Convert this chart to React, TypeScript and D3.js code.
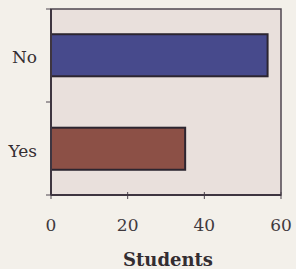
import React from "react";
import * as d3 from "d3";

const categories = ["No", "Yes"];
const students = [56.5, 35];
const xTicks = [0, 20, 40, 60];
const barColors = ["#474a8c", "#8c5046"];

export default function App() {
  const W = 296, H = 269;
  const left = 51, right = 281, top = 9, bottom = 195;
  const x = d3.scaleLinear().domain([0, 60]).range([left, right]);
  const y = d3.scaleBand().domain(categories).range([top, bottom]).paddingInner(0.55).paddingOuter(0.27);
  const yOuter = d3.scaleBand().domain(categories).range([top, bottom]);
  const font = "'DejaVu Serif', 'Liberation Serif', serif";
  return (
    <svg width={W} height={H} style={{ position: "absolute", left: 0, top: 0, background: "#f3f0ea" }}>
      <rect x={0} y={0} width={W} height={H} fill="#f3f0ea" />
      <rect x={left} y={top} width={right - left} height={bottom - top} fill="#e9e0dc" stroke="#4f4650" strokeWidth={1.5} />
      {categories.map((c, i) => (
        <rect key={c} x={x(0)} y={y(c)!} width={x(students[i]) - x(0)} height={y.bandwidth()}
          fill={barColors[i]} stroke="#2c2530" strokeWidth={2} />
      ))}
      {[top, yOuter("Yes")!, bottom].map((v, i) => (
        <line key={i} x1={left - 5} x2={left} y1={v} y2={v} stroke="#4f4650" strokeWidth={1} />
      ))}
      {xTicks.map((t) => (
        <line key={t} x1={x(t)} x2={x(t)} y1={bottom - 3} y2={bottom + 4} stroke="#4f4650" strokeWidth={1} />
      ))}
      <line x1={left} x2={right} y1={bottom} y2={bottom} stroke="#3e3540" strokeWidth={2} />
      <line x1={left} x2={left} y1={top} y2={bottom} stroke="#3e3540" strokeWidth={2} />
      {xTicks.map((t) => (
        <text key={t} x={x(t)} y={225} textAnchor="middle" dominantBaseline="central"
          fontFamily={font} fontSize={17} fill="#3f393d">{t}</text>
      ))}
      {categories.map((c) => (
        <text key={c} x={37} y={y(c)! + y.bandwidth() / 2 + 2} textAnchor="end" dominantBaseline="central"
          fontFamily={font} fontSize={17} fill="#332d31">{c}</text>
      ))}
      <text x={168} y={259} textAnchor="middle" dominantBaseline="central"
        fontFamily={font} fontSize={18} fontWeight="bold" fill="#332d31">Students</text>
    </svg>
  );
}
